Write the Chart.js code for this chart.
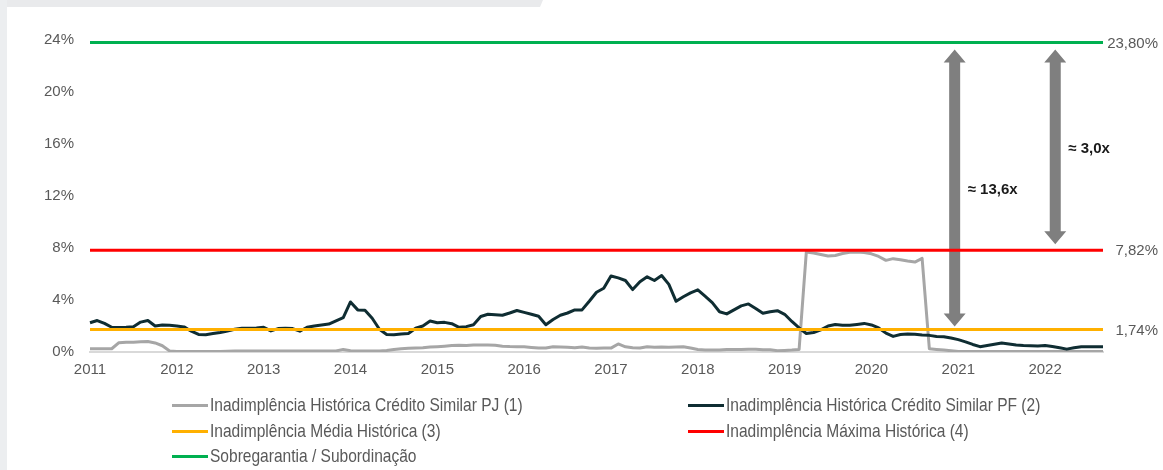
<!DOCTYPE html>
<html>
<head>
<meta charset="utf-8">
<script src="https://cdn.jsdelivr.net/npm/chart.js@4.4.1/dist/chart.umd.min.js"></script>
<style>
html,body{margin:0;padding:0;background:#fff;}
#wrap{position:relative;width:1163px;height:470px;overflow:hidden;background:#fff;}
#frameTop{position:absolute;left:0;top:0;width:543px;height:7px;background:#e9eaec;clip-path:polygon(0 0,100% 0,calc(100% - 3px) 100%,0 100%);}
#frameLeft{position:absolute;left:0;top:0;width:7px;height:470px;background:#eceef0;}
canvas{position:absolute;left:0;top:0;}
#legend{position:absolute;left:0;top:0;width:1163px;height:470px;pointer-events:none;font-family:'Liberation Sans',Arial,sans-serif;font-size:18.5px;color:#595959;}
.li{position:absolute;height:22px;display:flex;align-items:center;white-space:nowrap;}
.sw{width:36px;height:3px;margin-right:2px;flex:none;}
.tx{display:inline-block;transform:scaleX(0.84);transform-origin:0 50%;}
</style>
</head>
<body>
<div id="wrap">
  <div id="frameTop"></div>
  <div id="frameLeft"></div>
  <canvas id="c" width="1163" height="470"></canvas>
  <div id="legend"></div>
</div>
<script>
// ---- Data ----
const startYear = 2011, endYear = 2022, endMonth = 9;
const months = [];
for (let y = startYear; y <= endYear; y++) {
  for (let m = 1; m <= 12; m++) {
    if (y === endYear && m > endMonth) break;
    months.push(y + '-' + String(m).padStart(2, '0'));
  }
}

const seriesNames = [
  'Inadimplência Histórica Crédito Similar PJ (1)',
  'Inadimplência Histórica Crédito Similar PF (2)',
  'Inadimplência Média Histórica (3)',
  'Inadimplência Máxima Histórica (4)',
  'Sobregarantia / Subordinação'
];

// PJ monthly default rate (%)
const pj = [
  0.25,0.25,0.25,0.25,0.72,0.75,0.75,0.78,0.80,0.70,0.48,0.08,
  0.03,0.03,0.03,0.03,0.03,0.03,0.03,0.05,0.08,0.08,0.08,0.08,
  0.08,0.08,0.08,0.08,0.08,0.08,0.08,0.08,0.08,0.08,0.08,0.20,
  0.10,0.08,0.08,0.08,0.08,0.12,0.20,0.25,0.28,0.30,0.33,0.38,
  0.41,0.45,0.50,0.52,0.50,0.54,0.54,0.54,0.52,0.45,0.42,0.41,
  0.40,0.35,0.30,0.30,0.40,0.38,0.36,0.33,0.38,0.30,0.28,0.30,
  0.30,0.62,0.40,0.33,0.30,0.40,0.36,0.38,0.36,0.38,0.40,0.30,
  0.20,0.15,0.15,0.15,0.20,0.20,0.20,0.22,0.22,0.18,0.18,0.10,
  0.12,0.15,0.20,7.70,7.62,7.50,7.38,7.42,7.58,7.68,7.70,7.65,
  7.55,7.35,7.05,7.18,7.10,7.00,6.92,7.20,0.25,0.20,0.15,0.10,
  0.03,0.03,0.03,0.03,0.03,0.03,0.03,0.03,0.03,0.03,0.03,0.03,
  0.03,0.03,0.03,0.03,0.03,0.03,0.03,0.03,0.03
];

// PF monthly default rate (%)
const pf = [
  2.25,2.42,2.20,1.90,1.88,1.90,1.95,2.30,2.42,2.00,2.08,2.05,
  2.00,1.93,1.60,1.35,1.33,1.42,1.50,1.62,1.75,1.83,1.83,1.85,
  1.90,1.62,1.80,1.83,1.80,1.60,1.90,2.00,2.08,2.15,2.40,2.65,
  3.85,3.24,3.22,2.60,1.75,1.35,1.33,1.39,1.42,1.83,2.00,2.38,
  2.25,2.28,2.18,1.90,1.95,2.10,2.73,2.90,2.86,2.83,3.00,3.19,
  3.05,2.90,2.75,2.10,2.50,2.83,3.00,3.24,3.24,3.90,4.60,4.90,
  5.85,5.70,5.50,4.80,5.40,5.78,5.50,5.88,5.20,3.90,4.25,4.55,
  4.78,4.30,3.80,3.10,2.93,3.24,3.55,3.70,3.35,2.98,3.10,3.18,
  2.90,2.35,1.85,1.42,1.50,1.70,2.00,2.12,2.05,2.05,2.12,2.20,
  2.08,1.85,1.45,1.20,1.35,1.39,1.37,1.30,1.28,1.20,1.18,1.08,
  0.95,0.78,0.58,0.41,0.50,0.60,0.70,0.62,0.54,0.50,0.48,0.46,
  0.50,0.42,0.33,0.22,0.33,0.41,0.41,0.41,0.41
];

const mediaHistorica = 1.74;
const maximaHistorica = 7.82;
const sobregarantia = 23.80;

const yTicks = [0, 4, 8, 12, 16, 20, 24];
const multipleLabels = ['≈ 13,6x', '≈ 3,0x'];

const fmtPct = v => v.toFixed(2).replace('.', ',') + '%';
const flat = v => months.map(() => v);

// ---- Plugins ----
const arrowPlugin = {
  id: 'arrows',
  beforeDatasetsDraw(chart, args, opts) {
    const { ctx, scales: { x, y } } = chart;
    ctx.save();
    ctx.fillStyle = '#7f7f7f';
    opts.items.forEach(a => {
      const cx = x.getPixelForValue(a.at);
      const yTop = y.getPixelForValue(a.to) + a.gapTop;
      const yBot = y.getPixelForValue(a.from) - a.gapBottom;
      const sw = 5.5, hw = 11, hl = 13;
      ctx.beginPath();
      ctx.moveTo(cx, yTop);
      ctx.lineTo(cx + hw, yTop + hl);
      ctx.lineTo(cx + sw, yTop + hl);
      ctx.lineTo(cx + sw, yBot - hl);
      ctx.lineTo(cx + hw, yBot - hl);
      ctx.lineTo(cx, yBot);
      ctx.lineTo(cx - hw, yBot - hl);
      ctx.lineTo(cx - sw, yBot - hl);
      ctx.lineTo(cx - sw, yTop + hl);
      ctx.lineTo(cx - hw, yTop + hl);
      ctx.closePath();
      ctx.fill();
    });
    ctx.restore();
  },
  afterDraw(chart, args, opts) {
    const { ctx, scales: { x, y } } = chart;
    ctx.save();
    ctx.fillStyle = '#1a1a1a';
    ctx.font = "bold 15px 'Liberation Sans', Arial, sans-serif";
    ctx.textAlign = 'left';
    ctx.textBaseline = 'middle';
    opts.items.forEach(a => {
      ctx.fillText(a.label, x.getPixelForValue(a.at) + 13, y.getPixelForValue(a.labelAt));
    });
    ctx.restore();
  }
};

const refLabelPlugin = {
  id: 'refLabels',
  afterDraw(chart, args, opts) {
    const { ctx, scales: { y } } = chart;
    ctx.save();
    ctx.fillStyle = '#595959';
    ctx.font = "15px 'Liberation Sans', Arial, sans-serif";
    ctx.textAlign = 'right';
    ctx.textBaseline = 'middle';
    opts.values.forEach(v => {
      ctx.fillText(fmtPct(v), chart.width - 5, y.getPixelForValue(v) + 1);
    });
    ctx.restore();
  }
};

Chart.defaults.font.family = "'Liberation Sans', Arial, sans-serif";
Chart.defaults.font.size = 15;
Chart.defaults.color = '#595959';

const chart = new Chart(document.getElementById('c'), {
  type: 'line',
  data: {
    labels: months,
    datasets: [
      { label: seriesNames[0], data: pj, borderColor: '#a6a6a6', order: 5 },
      { label: seriesNames[1], data: pf, borderColor: '#0f2d32', order: 4 },
      { label: seriesNames[2], data: flat(mediaHistorica), borderColor: '#ffb000', order: 1 },
      { label: seriesNames[3], data: flat(maximaHistorica), borderColor: '#ff0000', order: 2 },
      { label: seriesNames[4], data: flat(sobregarantia), borderColor: '#00b050', order: 3 }
    ]
  },
  options: {
    responsive: false,
    animation: false,
    events: [],
    layout: { padding: { left: 0, right: 60, top: 40, bottom: 0 } },
    elements: {
      point: { radius: 0 },
      line: { borderWidth: 3, tension: 0, borderJoinStyle: 'round', borderCapStyle: 'butt' }
    },
    scales: {
      x: {
        type: 'category',
        grid: { display: false, drawTicks: false },
        border: { display: true, color: '#d9d9d9', width: 2 },
        afterFit(s) { s.height = 118; },
        ticks: {
          autoSkip: false,
          maxRotation: 0,
          padding: 9,
          color: '#595959',
          callback(v, i) {
            const lab = months[i];
            return lab.endsWith('-01') ? lab.slice(0, 4) : null;
          }
        }
      },
      y: {
        min: 0,
        max: 24,
        afterFit(s) { s.width = 90; },
        afterBuildTicks(s) { s.ticks = yTicks.map(v => ({ value: v })); },
        grid: { display: false, drawTicks: false },
        border: { display: false },
        ticks: { padding: 16, color: '#595959', callback: v => v + '%' }
      }
    },
    plugins: {
      legend: { display: false },
      tooltip: { enabled: false },
      arrows: {
        items: [
          { at: 119.5, from: mediaHistorica, to: sobregarantia, gapTop: 7, gapBottom: 3, label: multipleLabels[0], labelAt: 12.5 },
          { at: 133.4, from: maximaHistorica, to: sobregarantia, gapTop: 7, gapBottom: 6, label: multipleLabels[1], labelAt: 15.6 }
        ]
      },
      refLabels: { values: [sobregarantia, maximaHistorica, mediaHistorica] }
    }
  },
  plugins: [arrowPlugin, refLabelPlugin]
});

// HTML legend built from the chart datasets
const legendEl = document.getElementById('legend');
const colX = [172, 688];
const rowY = [405, 431, 456];
chart.data.datasets.forEach((ds, k) => {
  const item = document.createElement('div');
  item.className = 'li';
  item.style.left = colX[k % 2] + 'px';
  item.style.top = (rowY[Math.floor(k / 2)] - 11) + 'px';
  const sw = document.createElement('span');
  sw.className = 'sw';
  sw.style.background = ds.borderColor;
  const tx = document.createElement('span');
  tx.className = 'tx';
  tx.textContent = ds.label;
  item.appendChild(sw);
  item.appendChild(tx);
  legendEl.appendChild(item);
});
</script>
</body>
</html>
